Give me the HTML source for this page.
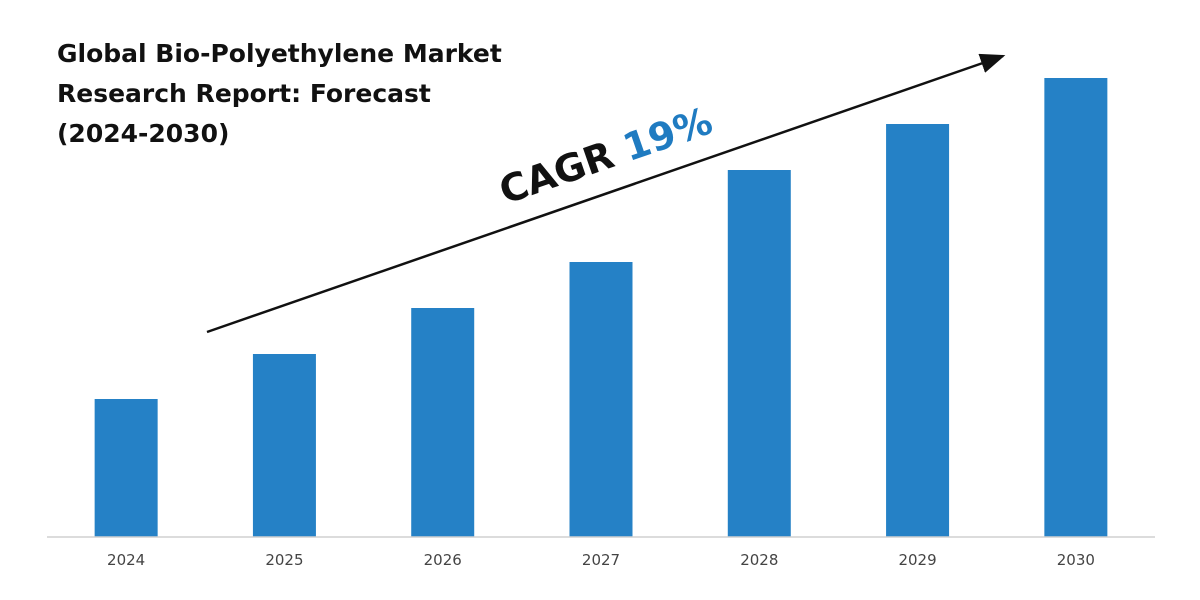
<!DOCTYPE html>
<html><head><meta charset="utf-8"><style>
body{margin:0;background:#fff;}
svg{display:block;font-family:"DejaVu Sans","Liberation Sans",sans-serif;}
</style></head><body>
<svg width="1200" height="600" viewBox="0 0 1200 600">
<g id="bars"></g>
<line x1="47" y1="537" x2="1155" y2="537" stroke="#d0d0d0" stroke-width="1.5"/>
<g id="labels"></g>
<g font-weight="bold" font-size="25" fill="#111">
<text x="57" y="62">Global Bio-Polyethylene Market</text>
<text x="57" y="102">Research Report: Forecast</text>
<text x="57" y="142">(2024-2030)</text>
</g>
<defs><marker id="ah" markerWidth="10" markerHeight="8" refX="9" refY="4" orient="auto"><path d="M0,0 L10,4 L0,8 z" fill="#111"/></marker></defs>
<line x1="207" y1="332" x2="1003" y2="56" stroke="#111" stroke-width="2.5" marker-end="url(#ah)"/>
<text x="610" y="168" transform="rotate(-19.1 610 168)" text-anchor="middle" font-size="38" font-weight="bold" fill="#111">CAGR <tspan fill="#1f7bc1">19%</tspan></text>
</svg>
<script>
const categories=["2024","2025","2026","2027","2028","2029","2030"];
const values=[1.38,1.83,2.29,2.75,3.67,4.13,4.59];
const x0=47,x1=1155,base=537,pxPerUnit=100,barW=63;
const step=(x1-x0)/categories.length;
const xc=i=>x0+step*(i+0.5);
const y=v=>base-v*pxPerUnit;
const ns="http://www.w3.org/2000/svg";
const gb=document.getElementById('bars'),gl=document.getElementById('labels');
categories.forEach((c,i)=>{
 const r=document.createElementNS(ns,'rect');
 r.setAttribute('x',xc(i)-barW/2);r.setAttribute('y',y(values[i]));
 r.setAttribute('width',barW);r.setAttribute('height',base-y(values[i]));
 r.setAttribute('fill','#2581c6');
 
 
 gb.appendChild(r);
 const t=document.createElementNS(ns,'text');
 t.setAttribute('x',xc(i));t.setAttribute('y',565);t.setAttribute('text-anchor','middle');
 t.setAttribute('font-size','15');t.setAttribute('fill','#444');t.textContent=c;
 
 
 gl.appendChild(t);
});
</script>
</body></html>
